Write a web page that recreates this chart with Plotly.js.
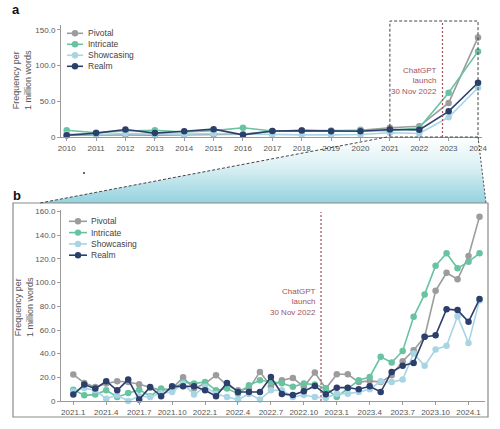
<!DOCTYPE html>
<html>
<head>
<meta charset="utf-8">
<script src="https://cdn.plot.ly/plotly-3.0.1.min.js"></script>
<style>
  html, body { margin: 0; padding: 0; background: #ffffff; }
  #chart { width: 500px; height: 429px; }
</style>
</head>
<body>
<div id="chart"></div>
<script>
// ---- Panel a: yearly frequency per 1 million words ----
const years = [2010, 2011, 2012, 2013, 2014, 2015, 2016, 2017, 2018, 2019, 2020, 2021, 2022, 2023, 2024];
const pivotalYear    = [2.5, 3, 3, 2.5, 3, 3.5, 4, 8, 9, 8.5, 9.5, 13, 15, 47.8, 139.6];
const intricateYear  = [9.5, 6, 8.5, 9.5, 7, 9, 13, 8.5, 9, 9, 10, 9, 12.5, 62, 120];
const showcasingYear = [4, 3.5, 5, 4, 4, 5, 4, 3, 3, 3, 3.5, 6, 5, 27.7, 69];
const realmYear      = [2.5, 5.5, 10.5, 5.5, 8, 11, 3, 8.5, 9, 8, 8, 10.5, 10, 36, 76];

// ---- Panel b: monthly frequency, Jan 2021 - Feb 2024 ----
const months = [
  '2021.1','2021.2','2021.3','2021.4','2021.5','2021.6','2021.7','2021.8','2021.9','2021.10','2021.11','2021.12',
  '2022.1','2022.2','2022.3','2022.4','2022.5','2022.6','2022.7','2022.8','2022.9','2022.10','2022.11','2022.12',
  '2023.1','2023.2','2023.3','2023.4','2023.5','2023.6','2023.7','2023.8','2023.9','2023.10','2023.11','2023.12',
  '2024.1','2024.2'
];
const pivotalMonth    = [22.3, 15.3, 11.9, 14.7, 16.7, 16.0, 14.1, 11.3, 9.0, 10.5, 20.0, 10.5,
                         14.7, 21.8, 13.3, 9.0, 10.5, 24.6, 12.4, 17.5, 19.5, 12.0, 24.0, 10.5,
                         22.6, 22.6, 16.0, 17.0, 16.0, 21.8, 33.6, 42.9, 54.2, 93.1, 108.4, 102.8,
                         122.5, 155.8];
const intricateMonth  = [9.6, 4.8, 5.4, 9.1, 3.4, 6.8, 9.6, 4.0, 10.5, 9.0, 16.1, 14.7,
                         16.1, 9.0, 10.5, 6.2, 13.3, 17.5, 16.0, 15.0, 12.0, 14.7, 14.0, 10.5,
                         3.4, 10.5, 17.5, 20.3, 37.3, 32.5, 42.3, 71.1, 90.1, 114.3, 124.8, 112.1,
                         117.7, 124.8];
const showcasingMonth = [8.0, 11.0, 9.0, 2.0, 4.8, 0.0, 4.0, 3.4, 6.5, 7.6, 14.7, 5.4,
                         12.0, 6.2, 3.4, 1.2, 6.0, 1.2, 9.0, 9.0, 3.4, 5.0, 3.4, 2.5,
                         6.2, 6.2, 7.6, 10.0, 16.7, 16.0, 18.1, 40.1, 29.7, 43.5, 46.6, 71.7,
                         49.1, 85.0];
const realmMonth      = [5.4, 13.9, 10.5, 16.7, 9.0, 18.1, 1.2, 11.9, 4.0, 12.4, 12.4, 12.4,
                         9.0, 4.0, 15.3, 7.6, 7.6, 7.6, 20.3, 6.0, 5.0, 8.2, 12.7, 5.7,
                         11.3, 11.3, 10.0, 12.4, 7.6, 24.6, 29.7, 32.2, 54.2, 55.6, 77.6, 76.8,
                         66.9, 86.1];

const monthTicks = ['2021.1','2021.4','2021.7','2021.10','2022.1','2022.4','2022.7','2022.10',
                    '2023.1','2023.4','2023.7','2023.10','2024.1'];
const yearTickText  = ['0', '50.0', '100.0', '150.0'];
const monthTickText = ['0', '20.0', '40.0', '60.0', '80.0', '100.0', '120.0', '140.0', '160.0'];

const seriesNames  = ['Pivotal', 'Intricate', 'Showcasing', 'Realm'];
const seriesColors = ['#9c9c9e', '#68c3a0', '#a8d5e4', '#2c3f6c'];
const yearSeries   = [pivotalYear, intricateYear, showcasingYear, realmYear];
const monthSeries  = [pivotalMonth, intricateMonth, showcasingMonth, realmMonth];

// figure is 500 x 429 with zero margins, so paper coords map straight to pixels
const W = 500, H = 429;
const px = v => v / W;
const py = v => 1 - v / H;

const FONT = 'Liberation Sans, Arial, sans-serif';
const TICK = '#555555';
const LAUNCH = '#a3525c';
const FINE_DASH = '3px,2px';

const traces = [];
seriesNames.forEach((name, k) => {
  traces.push({
    type: 'scatter', mode: 'lines+markers', name,
    x: years, y: yearSeries[k], xaxis: 'x', yaxis: 'y',
    line: { color: seriesColors[k], width: 1.6 },
    marker: { color: seriesColors[k], size: 6.5 },
    cliponaxis: false, showlegend: false, hoverinfo: 'skip'
  });
});
seriesNames.forEach((name, k) => {
  traces.push({
    type: 'scatter', mode: 'lines+markers', name,
    x: months, y: monthSeries[k], xaxis: 'x2', yaxis: 'y2',
    line: { color: seriesColors[k], width: 1.6 },
    marker: { color: seriesColors[k], size: 6.5 },
    cliponaxis: false, showlegend: false, hoverinfo: 'skip'
  });
});

const axisCommon = {
  showline: true, linecolor: '#9a9a9a', linewidth: 1,
  showgrid: false, zeroline: false,
  ticks: 'outside', ticklen: 3, tickcolor: '#9a9a9a', tickwidth: 1,
  tickfont: { family: FONT, size: 8, color: TICK },
  fixedrange: true
};

const shapes = [];
const annotations = [];

// panel b frame
shapes.push({ type: 'rect', xref: 'paper', yref: 'paper',
  x0: px(13), x1: px(488), y0: py(417), y1: py(203),
  line: { color: '#8a8a8a', width: 1.2 } });

// zoom box over 2021-2024 in panel a
shapes.push({ type: 'rect', xref: 'x', yref: 'paper',
  x0: 2021, x1: 2024, y0: py(137), y1: py(21),
  line: { color: '#444444', width: 1, dash: FINE_DASH } });

// connectors from the zoom box down to panel b
shapes.push({ type: 'line', xref: 'paper', yref: 'paper',
  x0: px(387), y0: py(137), x1: px(40), y1: py(203),
  line: { color: '#444444', width: 1, dash: FINE_DASH } });
shapes.push({ type: 'line', xref: 'paper', yref: 'paper',
  x0: px(478), y0: py(137), x1: px(486), y1: py(203),
  line: { color: '#444444', width: 1, dash: '2px,2px' } });

// ChatGPT launch markers
shapes.push({ type: 'line', xref: 'paper', yref: 'paper',
  x0: px(442.5), x1: px(442.5), y0: py(137), y1: py(21),
  line: { color: LAUNCH, width: 1.2, dash: '2px,2px' } });
shapes.push({ type: 'line', xref: 'paper', yref: 'paper',
  x0: px(321), x1: px(321), y0: py(401), y1: py(212),
  line: { color: LAUNCH, width: 1.2, dash: '2px,2px' } });

// stray dot
shapes.push({ type: 'circle', xref: 'paper', yref: 'paper',
  x0: px(83), x1: px(85), y0: py(174), y1: py(172),
  fillcolor: '#333333', line: { width: 0 } });

annotations.push({ xref: 'paper', yref: 'paper', x: px(439), y: py(81),
  xanchor: 'right', yanchor: 'middle', align: 'right', showarrow: false,
  text: 'ChatGPT<br>launch<br>30 Nov 2022',
  font: { family: FONT, size: 8, color: LAUNCH } });
annotations.push({ xref: 'paper', yref: 'paper', x: px(318), y: py(302),
  xanchor: 'right', yanchor: 'middle', align: 'right', showarrow: false,
  text: 'ChatGPT<br>launch<br>30 Nov 2022',
  font: { family: FONT, size: 8, color: LAUNCH } });

// panel letters
annotations.push({ xref: 'paper', yref: 'paper', x: px(10), y: py(10),
  xanchor: 'left', yanchor: 'middle', showarrow: false, text: '<b>a</b>',
  font: { family: FONT, size: 13, color: '#111111' } });
annotations.push({ xref: 'paper', yref: 'paper', x: px(11), y: py(195),
  xanchor: 'left', yanchor: 'middle', showarrow: false, text: '<b>b</b>',
  font: { family: FONT, size: 13, color: '#111111' } });

// y-axis titles
annotations.push({ xref: 'paper', yref: 'paper', x: px(22), y: py(80),
  xanchor: 'center', yanchor: 'middle', showarrow: false, textangle: -90,
  text: 'Frequency per<br>1 million words',
  font: { family: FONT, size: 9, color: TICK } });
annotations.push({ xref: 'paper', yref: 'paper', x: px(24), y: py(307),
  xanchor: 'center', yanchor: 'middle', showarrow: false, textangle: -90,
  text: 'Frequency per<br>1 million words',
  font: { family: FONT, size: 9, color: TICK } });

// legends for both panels
function addLegend(x0, x1, textX, y0, step) {
  seriesNames.forEach((name, k) => {
    const y = y0 + step * k;
    const cx = (x0 + x1) / 2;
    shapes.push({ type: 'line', xref: 'paper', yref: 'paper',
      x0: px(x0), x1: px(x1), y0: py(y), y1: py(y),
      line: { color: seriesColors[k], width: 1.6 } });
    shapes.push({ type: 'circle', xref: 'paper', yref: 'paper',
      x0: px(cx - 3.2), x1: px(cx + 3.2), y0: py(y + 3.2), y1: py(y - 3.2),
      fillcolor: seriesColors[k], line: { width: 0 } });
    annotations.push({ xref: 'paper', yref: 'paper', x: px(textX), y: py(y),
      xanchor: 'left', yanchor: 'middle', showarrow: false, text: name,
      font: { family: FONT, size: 8.5, color: '#444444' } });
  });
}
addLegend(67, 83, 86, 33.3, 11);
addLegend(69, 87, 89, 221.3, 11.3);

// soft cyan band linking the zoom box to panel b
const bandSvg =
  "<svg xmlns='http://www.w3.org/2000/svg' width='500' height='429' viewBox='0 0 500 429'>" +
  "<defs><linearGradient id='g' gradientUnits='userSpaceOnUse' x1='0' y1='137' x2='0' y2='203'>" +
  "<stop offset='0' stop-color='#ffffff'/>" +
  "<stop offset='0.45' stop-color='#dbf0f4'/>" +
  "<stop offset='1' stop-color='#94d2de'/>" +
  "</linearGradient></defs>" +
  "<polygon points='387,137 478,137 486,203 40,203' fill='url(#g)'/></svg>";

const layout = {
  width: W, height: H,
  margin: { l: 0, r: 0, t: 0, b: 0, pad: 0 },
  paper_bgcolor: '#ffffff', plot_bgcolor: 'rgba(0,0,0,0)',
  font: { family: FONT, size: 8, color: TICK },
  showlegend: false,
  xaxis: Object.assign({}, axisCommon, {
    domain: [px(61), px(482)], range: [2009.806, 2024.135],
    tickvals: years, anchor: 'y'
  }),
  yaxis: Object.assign({}, axisCommon, {
    domain: [py(137), py(25)], range: [0, 157.0],
    tickvals: [0, 50, 100, 150], ticktext: yearTickText, anchor: 'x'
  }),
  xaxis2: Object.assign({}, axisCommon, {
    type: 'category', domain: [px(61), px(485)], range: [-1.12, 37.5],
    tickvals: monthTicks, ticktext: monthTicks, anchor: 'y2'
  }),
  yaxis2: Object.assign({}, axisCommon, {
    domain: [py(401), py(210)], range: [0, 161.4],
    tickvals: [0, 20, 40, 60, 80, 100, 120, 140, 160], ticktext: monthTickText, anchor: 'x2'
  }),
  shapes, annotations,
  images: [{
    source: 'data:image/svg+xml;charset=utf-8,' + encodeURIComponent(bandSvg),
    xref: 'paper', yref: 'paper', x: 0, y: 1, sizex: 1, sizey: 1,
    xanchor: 'left', yanchor: 'top', sizing: 'stretch', layer: 'below'
  }]
};

Plotly.newPlot('chart', traces, layout, { displayModeBar: false, staticPlot: true });
</script>
</body>
</html>
